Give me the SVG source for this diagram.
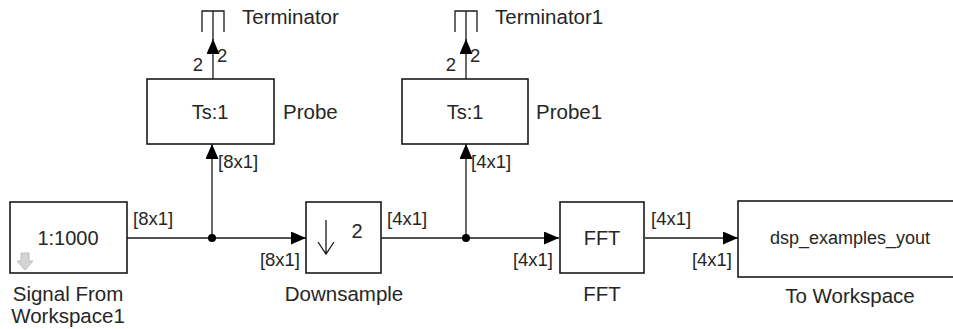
<svg xmlns="http://www.w3.org/2000/svg" width="953" height="329" viewBox="0 0 953 329">
<defs>
<style>
.blk{fill:#fff;stroke:#1a1a1a;stroke-width:1.6}
.ln{fill:none;stroke:#1a1a1a;stroke-width:1.3}
.t{font-family:"Liberation Sans",Arial,sans-serif;fill:#262626}
.nm{font-size:20.5px}
.ct{font-size:20px}
.ws{font-size:18px}
.lb{font-size:18.5px}
</style>
<marker id="ah" viewBox="0 0 15 13" refX="15" refY="6.5" markerWidth="15" markerHeight="13" markerUnits="userSpaceOnUse" orient="auto">
<path d="M0,0 L15,6.5 L0,13 Z" fill="#000"/>
</marker>
</defs>
<rect width="953" height="329" fill="#fff"/>
<g id="connectors">
<path class="ln" d="M127,238 H306" marker-end="url(#ah)"/>
<path class="ln" d="M212,238 V144" marker-end="url(#ah)"/>
<path class="ln" d="M381,238 H559" marker-end="url(#ah)"/>
<path class="ln" d="M466,238 V144" marker-end="url(#ah)"/>
<path class="ln" d="M645,238 H738" marker-end="url(#ah)"/>
<path class="ln" d="M213,79 V39" marker-end="url(#ah)"/>
<path class="ln" d="M466,79 V39" marker-end="url(#ah)"/>
<circle cx="212" cy="238" r="4" fill="#000"/>
<circle cx="466" cy="238" r="4" fill="#000"/>
<text class="t lb" x="133" y="225">[8x1]</text>
<text class="t lb" x="300" y="266" text-anchor="end">[8x1]</text>
<text class="t lb" x="218" y="168">[8x1]</text>
<text class="t lb" x="387" y="225">[4x1]</text>
<text class="t lb" x="553" y="266" text-anchor="end">[4x1]</text>
<text class="t lb" x="471" y="168">[4x1]</text>
<text class="t lb" x="651" y="225">[4x1]</text>
<text class="t lb" x="732" y="266" text-anchor="end">[4x1]</text>
<text class="t lb" x="203" y="71" text-anchor="end">2</text>
<text class="t lb" x="217" y="62">2</text>
<text class="t lb" x="456" y="71" text-anchor="end">2</text>
<text class="t lb" x="470" y="62">2</text>
</g>
<g id="signal-from-workspace">
<rect class="blk" x="10" y="202" width="117" height="71"/>
<text class="t ct" x="68" y="245" text-anchor="middle">1:1000</text>
<path d="M21,253 H29 V261 H33 L25,270 L17,261 H21 Z" fill="#d4d4d4" stroke="#bdbdbd" stroke-width="1"/>
<text class="t nm" x="68" y="301" text-anchor="middle">Signal From</text>
<text class="t nm" x="68" y="323" text-anchor="middle">Workspace1</text>
</g>
<g id="downsample">
<rect class="blk" x="306" y="202" width="75" height="71"/>
<path class="ln" d="M326,220 V254 M318,242 L326,254 L334,242"/>
<text class="t ct" x="357" y="238" text-anchor="middle">2</text>
<text class="t nm" x="344" y="301" text-anchor="middle">Downsample</text>
</g>
<g id="fft">
<rect class="blk" x="560" y="202" width="84" height="71"/>
<text class="t ct" x="602" y="245" text-anchor="middle">FFT</text>
<text class="t nm" x="602" y="301" text-anchor="middle">FFT</text>
</g>
<g id="to-workspace">
<rect class="blk" x="738" y="201" width="220" height="76"/>
<text class="t ws" x="850" y="244" text-anchor="middle">dsp_examples_yout</text>
<text class="t nm" x="850" y="303" text-anchor="middle">To Workspace</text>
</g>
<g id="probe">
<rect class="blk" x="147" y="79" width="127" height="65"/>
<text class="t ct" x="210" y="119" text-anchor="middle">Ts:1</text>
<text class="t nm" x="283" y="119">Probe</text>
</g>
<g id="probe1">
<rect class="blk" x="402" y="79" width="126" height="65"/>
<text class="t ct" x="465" y="119" text-anchor="middle">Ts:1</text>
<text class="t nm" x="536" y="119">Probe1</text>
</g>
<g id="terminator">
<path class="ln" d="M202,32 V11 H224 V32 M213,11 V40"/>
<text class="t nm" x="242" y="24">Terminator</text>
</g>
<g id="terminator1">
<path class="ln" d="M455,32 V11 H477 V32 M466,11 V40"/>
<text class="t nm" x="495" y="24">Terminator1</text>
</g>
</svg>
